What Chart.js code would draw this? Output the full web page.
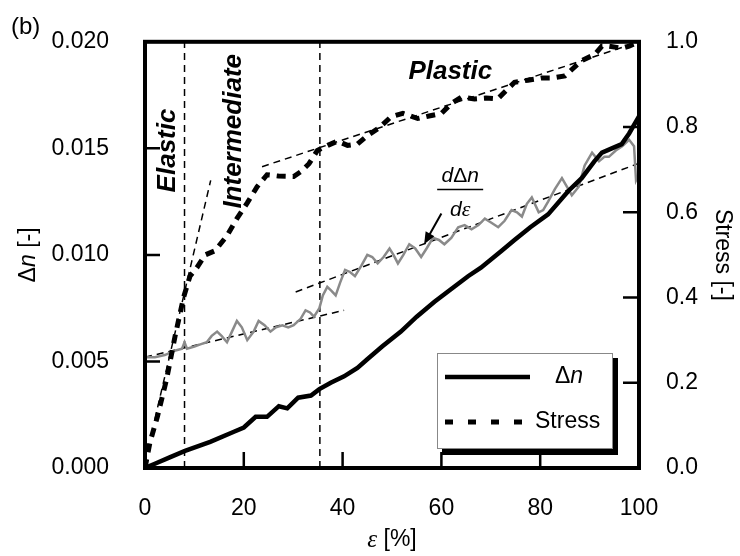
<!DOCTYPE html>
<html>
<head>
<meta charset="utf-8">
<script src="https://cdn.jsdelivr.net/npm/chart.js@4.4.1/dist/chart.umd.min.js"></script>
<style>
  html, body { margin: 0; padding: 0; background: #fff; }
  canvas { display: block; }
</style>
</head>
<body>
<canvas id="chart" width="740" height="556"></canvas>
<script>
// ---- data ----
const dnStrain = [0, 2, 5, 8.1, 13.2, 18, 20, 22.4, 24.7, 27.1, 28.8, 31, 33.6, 35.3, 37.6, 40.3, 43, 45, 48, 51.8, 55, 58.6, 62, 65.4, 68, 72.2, 74.8, 78, 81.6, 85.7, 88.4, 91, 92.5, 94.5, 96.5, 98, 100];
const dnValue  = [0, 0.0002, 0.0005, 0.0008, 0.00123, 0.0017, 0.0019, 0.0024, 0.0024, 0.0029, 0.0028, 0.0033, 0.0034, 0.0037, 0.0040, 0.0043, 0.0047, 0.0051, 0.0057, 0.0064, 0.0071, 0.0078, 0.0084, 0.0090, 0.0094, 0.0102, 0.0107, 0.0113, 0.0119, 0.0130, 0.0136, 0.0144, 0.0148, 0.0150, 0.0152, 0.0157, 0.0165];

const stressStrain = [0, 1, 2.5, 4.4, 6.1, 7.8, 9.1, 10.5, 12.2, 14.2, 16.6, 18.6, 20.7, 22.7, 24.7, 27, 30.1, 31.5, 33.2, 34.9, 37, 39, 41, 43, 45, 47.4, 49.8, 52.2, 55.2, 57.5, 60, 62, 64, 66.7, 69, 71.4, 74.8, 77.5, 80.2, 82.5, 85, 88.4, 91, 92.5, 93.8, 96.5, 98, 100];
const stressValue  = [0, 0.06, 0.12, 0.21, 0.31, 0.40, 0.45, 0.47, 0.50, 0.51, 0.545, 0.585, 0.622, 0.66, 0.688, 0.685, 0.684, 0.695, 0.714, 0.745, 0.757, 0.767, 0.757, 0.76, 0.78, 0.798, 0.824, 0.832, 0.82, 0.826, 0.832, 0.855, 0.87, 0.866, 0.868, 0.866, 0.905, 0.91, 0.915, 0.915, 0.92, 0.956, 0.97, 0.99, 0.99, 0.985, 0.99, 1.0];

const rateStrain = [0, 2, 4, 6, 7.5, 8, 8.5, 10, 11.2, 12.5, 13.5, 14.6, 15.5, 16.6, 17.6, 18.6, 19.6, 20.7, 22, 23, 24.2, 25.4, 26.5, 27.8, 29, 30.1, 31.5, 32.5, 33.4, 34.2, 35.3, 36, 36.9, 37.8, 38.6, 39.5, 40.5, 41.5, 42.5, 43.8, 45, 46, 47.1, 48.3, 49.5, 50.3, 51.2, 52.3, 53.5, 54.7, 55.9, 57, 58.3, 59.5, 60.6, 62, 63.4, 64.7, 66.1, 67.5, 68.8, 70.2, 71.5, 72.8, 74.2, 75.3, 76.3, 77.3, 78.3, 79.7, 80.6, 81.6, 83, 84.4, 85.4, 86.4, 87.8, 89, 90.5, 91.9, 93, 93.9, 95.3, 96.6, 98, 99, 99.4, 100];
const rateValue  = [0.0052, 0.0052, 0.0053, 0.0055, 0.0056, 0.0059, 0.0056, 0.0057, 0.0058, 0.0059, 0.0062, 0.0064, 0.0062, 0.0059, 0.0064, 0.0069, 0.0066, 0.0060, 0.0064, 0.0069, 0.0067, 0.0064, 0.0066, 0.0067, 0.0066, 0.0067, 0.0070, 0.0074, 0.0073, 0.0071, 0.0075, 0.0081, 0.0085, 0.0083, 0.0081, 0.0087, 0.0093, 0.0092, 0.0090, 0.0095, 0.0100, 0.0099, 0.0096, 0.0099, 0.0103, 0.0100, 0.0096, 0.0100, 0.0105, 0.0103, 0.0099, 0.0103, 0.0108, 0.0107, 0.0105, 0.0108, 0.0113, 0.0114, 0.0112, 0.0114, 0.0117, 0.0115, 0.0113, 0.0116, 0.0121, 0.0120, 0.0118, 0.0124, 0.0127, 0.0120, 0.0121, 0.0125, 0.0131, 0.0136, 0.0132, 0.0128, 0.0132, 0.0142, 0.0148, 0.0144, 0.0146, 0.0146, 0.0149, 0.0151, 0.0154, 0.0151, 0.0135, 0.0138];

// fitted straight lines: [x0, y0, x1, y1]
const elasticFit = [2.0, 0.0023, 13.3, 0.0135];
const plasticFit = [23.7, 0.707, 100, 1.0];
const rateFit1 = [0, 0.0052, 40.3, 0.0074];
const rateFit2 = [30.5, 0.00826, 100, 0.0143];
const regionBounds = [8.0, 35.4];

const xTicks = [0, 20, 40, 60, 80, 100];
const leftTicks = [0, 0.005, 0.010, 0.015, 0.020];
const rightTicks = [0, 0.2, 0.4, 0.6, 0.8, 1.0];

const FONT = "'Liberation Sans', Arial, sans-serif";
const GREY = '#8a8a8a';

const pts = (xs, ys) => xs.map((x, i) => ({ x, y: ys[i] }));
const seg = s => [{ x: s[0], y: s[1] }, { x: s[2], y: s[3] }];

function fitLine(data, axis) {
  return { data, yAxisID: axis, borderColor: '#000', borderWidth: 1.5, borderDash: [7, 5], pointRadius: 0, fill: false };
}

// draws consecutive text runs with different fonts; centred on cx unless left given
function drawRuns(ctx, runs, cx, cy, left) {
  let total = 0;
  runs.forEach(r => { ctx.font = r[1]; total += ctx.measureText(r[0]).width; });
  let x = left !== undefined ? left : cx - total / 2;
  ctx.textAlign = 'left';
  ctx.textBaseline = 'middle';
  runs.forEach(r => { ctx.font = r[1]; ctx.fillText(r[0], x, cy); x += ctx.measureText(r[0]).width; });
}

// frame, inward ticks, titles, annotations and the boxed legend
const decorations = {
  id: 'decorations',
  afterDraw(chart) {
    const { ctx, chartArea: a, scales } = chart;
    const sx = scales.x, sy = scales.y, sy1 = scales.y1;
    ctx.save();
    ctx.strokeStyle = '#000';
    ctx.fillStyle = '#000';

    // inward ticks
    ctx.lineWidth = 2.5;
    ctx.beginPath();
    xTicks.slice(1, -1).forEach(v => { const p = sx.getPixelForValue(v); ctx.moveTo(p, a.bottom); ctx.lineTo(p, a.bottom - 16); });
    leftTicks.slice(1, -1).forEach(v => { const p = sy.getPixelForValue(v); ctx.moveTo(a.left, p); ctx.lineTo(a.left + 15, p); });
    rightTicks.slice(1, -1).forEach(v => { const p = sy1.getPixelForValue(v); ctx.moveTo(a.right, p); ctx.lineTo(a.right - 16, p); });
    ctx.stroke();

    // frame
    ctx.lineWidth = 4;
    ctx.strokeRect(a.left, a.top, a.right - a.left, a.bottom - a.top);

    // panel label
    ctx.font = '24px ' + FONT;
    ctx.textAlign = 'left';
    ctx.textBaseline = 'middle';
    ctx.fillText('(b)', 11, 27);

    // axis titles
    ctx.save();
    ctx.translate(29, (a.top + a.bottom) / 2);
    ctx.rotate(-Math.PI / 2);
    drawRuns(ctx, [['Δ', '23px ' + FONT], ['n', 'italic 23px ' + FONT], [' [-]', '23px ' + FONT]], 0, 0);
    ctx.restore();

    ctx.save();
    ctx.translate(722, (a.top + a.bottom) / 2);
    ctx.rotate(Math.PI / 2);
    drawRuns(ctx, [['Stress [-]', '23px ' + FONT]], 0, 0);
    ctx.restore();

    drawRuns(ctx, [['ε', "italic 25px 'Liberation Serif', serif"], [' [%]', '23px ' + FONT]], (a.left + a.right) / 2, 540);

    // region labels
    ctx.fillStyle = '#000';
    ctx.font = 'bold italic 26px ' + FONT;
    ctx.textAlign = 'center';
    ctx.textBaseline = 'middle';
    ctx.save();
    ctx.translate(sx.getPixelForValue(4.6), sy.getPixelForValue(0.0149));
    ctx.rotate(-Math.PI / 2);
    ctx.fillText('Elastic', 0, 0);
    ctx.restore();
    ctx.save();
    ctx.translate(sx.getPixelForValue(17.9), sy.getPixelForValue(0.0158));
    ctx.rotate(-Math.PI / 2);
    ctx.fillText('Intermediate', 0, 0);
    ctx.restore();
    ctx.fillText('Plastic', sx.getPixelForValue(61.8), sy.getPixelForValue(0.0186));

    // d(dn)/d(eps) label with arrow
    const fx = sx.getPixelForValue(63.8);
    drawRuns(ctx, [['d', 'italic 21px ' + FONT], ['Δ', '21px ' + FONT], ['n', 'italic 21px ' + FONT]], fx, sy.getPixelForValue(0.0137));
    const ly = sy.getPixelForValue(0.01307);
    ctx.lineWidth = 1.5;
    ctx.beginPath(); ctx.moveTo(fx - 23, ly); ctx.lineTo(fx + 23, ly); ctx.stroke();
    drawRuns(ctx, [['d', 'italic 21px ' + FONT], ['ε', "italic 22px 'Liberation Serif', serif"]], fx, sy.getPixelForValue(0.0121));

    const ax0 = sx.getPixelForValue(60), ay0 = sy.getPixelForValue(0.01194);
    const ax1 = sx.getPixelForValue(56.5), ay1 = sy.getPixelForValue(0.0105);
    const ang = Math.atan2(ay1 - ay0, ax1 - ax0);
    ctx.lineWidth = 2;
    ctx.beginPath(); ctx.moveTo(ax0, ay0); ctx.lineTo(ax1 - 8 * Math.cos(ang), ay1 - 8 * Math.sin(ang)); ctx.stroke();
    ctx.beginPath();
    ctx.moveTo(ax1, ay1);
    ctx.lineTo(ax1 - 12 * Math.cos(ang) + 5 * Math.sin(ang), ay1 - 12 * Math.sin(ang) - 5 * Math.cos(ang));
    ctx.lineTo(ax1 - 12 * Math.cos(ang) - 5 * Math.sin(ang), ay1 - 12 * Math.sin(ang) + 5 * Math.cos(ang));
    ctx.closePath(); ctx.fill();

    // legend box with drop shadow
    const L = 437, T = 353, W = 176, H = 96;
    ctx.fillRect(L + 5, T + 5, W, H + 1);
    ctx.fillStyle = '#fff';
    ctx.fillRect(L, T, W, H);
    ctx.strokeStyle = '#888';
    ctx.lineWidth = 1;
    ctx.strokeRect(L + 0.5, T + 0.5, W - 1, H - 1);
    ctx.fillStyle = '#000';
    ctx.strokeStyle = '#000';
    chart.data.datasets.filter(d => d.legendRuns).forEach((d, i) => {
      const y = T + 24 + i * 45;
      ctx.lineWidth = d.borderWidth;
      ctx.setLineDash(d.legendDash || []);
      ctx.beginPath(); ctx.moveTo(L + 8, y); ctx.lineTo(L + 93, y); ctx.stroke();
      ctx.setLineDash([]);
      drawRuns(ctx, d.legendRuns, 0, y, L + d.legendTextX);
    });
    ctx.restore();
  }
};

new Chart(document.getElementById('chart'), {
  type: 'line',
  data: {
    datasets: [
      { label: 'Δn', data: pts(dnStrain, dnValue), yAxisID: 'y', borderColor: '#000', borderWidth: 4.5, pointRadius: 0,
        legendRuns: [['Δ', '23px ' + FONT], ['n', 'italic 23px ' + FONT]], legendTextX: 118 },
      { label: 'Stress', data: pts(stressStrain, stressValue), yAxisID: 'y1', borderColor: '#000', borderWidth: 5, borderDash: [9, 7], pointRadius: 0,
        legendDash: [8, 15], legendRuns: [['Stress', '23px ' + FONT]], legendTextX: 98 },
      { label: 'dΔn/dε', data: pts(rateStrain, rateValue), yAxisID: 'y', borderColor: GREY, borderWidth: 2.5, pointRadius: 0 },
      fitLine(seg(elasticFit), 'y'),
      fitLine(seg(plasticFit), 'y1'),
      fitLine(seg(rateFit1), 'y'),
      fitLine(seg(rateFit2), 'y'),
      fitLine([{ x: regionBounds[0], y: 0 }, { x: regionBounds[0], y: 0.02 }], 'y'),
      fitLine([{ x: regionBounds[1], y: 0 }, { x: regionBounds[1], y: 0.02 }], 'y')
    ]
  },
  options: {
    responsive: false,
    animation: false,
    devicePixelRatio: 1,
    events: [],
    layout: { padding: { top: 28, left: 0, right: 0, bottom: 0 } },
    plugins: { legend: { display: false }, tooltip: { enabled: false } },
    scales: {
      x: {
        type: 'linear', min: 0, max: 100,
        afterBuildTicks: s => { s.ticks = xTicks.map(v => ({ value: v })); },
        afterFit: s => { s.height = 88; },
        grid: { display: false }, border: { display: false },
        ticks: { color: '#000', padding: 19, font: { family: FONT, size: 23 }, maxRotation: 0 }
      },
      y: {
        position: 'left', min: 0, max: 0.02,
        afterBuildTicks: s => { s.ticks = leftTicks.map(v => ({ value: v })); },
        afterFit: s => { s.width = 145; },
        grid: { display: false }, border: { display: false },
        ticks: { color: '#000', padding: 28, font: { family: FONT, size: 23 }, callback: v => v.toFixed(3) }
      },
      y1: {
        position: 'right', min: 0, max: 1,
        afterBuildTicks: s => { s.ticks = rightTicks.map(v => ({ value: v })); },
        afterFit: s => { s.width = 101; },
        grid: { display: false }, border: { display: false },
        ticks: { color: '#000', padding: 19, font: { family: FONT, size: 23 }, callback: v => v.toFixed(1) }
      }
    }
  },
  plugins: [decorations]
});
</script>
</body>
</html>
